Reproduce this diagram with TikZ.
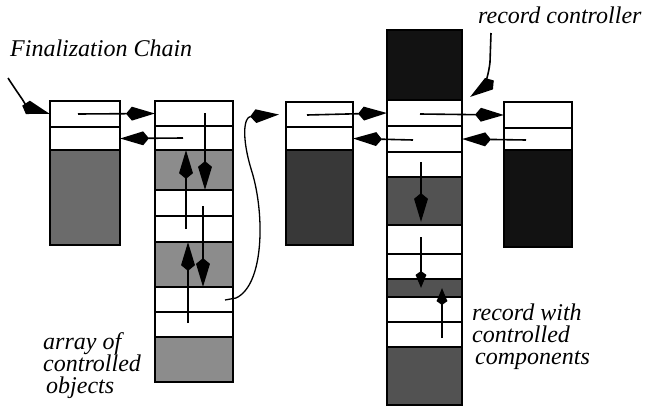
\documentclass[tikz,border=0pt]{standalone}
\usepackage{fontspec}
\setmainfont{Liberation Serif}
\usetikzlibrary{arrows.meta}
\colorlet{gA}{black!58}
\colorlet{gB}{black!45}
\colorlet{gC}{black!78}
\colorlet{gD}{black!68}
\colorlet{gDark}{black!93}
\newcommand\mkcell[6]{\node[cell, fill=#6, minimum width={#4pt-#2pt}, minimum height={#5pt-#3pt}] (#1) at (#2,#3) {};}
\begin{document}
\begin{tikzpicture}[x=1pt,y=-1pt,
  cell/.style={draw=black, line width=2pt, inner sep=0pt, outer sep=0pt, anchor=north west},
  bigtip/.tip={Stealth[length=23pt,width=13pt,inset=-6pt]},
  smalltip/.tip={Stealth[length=13pt,width=10pt,inset=-4pt]},
  ptr/.style={line width=1.6pt, -bigtip},
  sptr/.style={line width=1.6pt, -smalltip},
  lbl/.style={font=\fontsize{24}{22}\selectfont\itshape, inner sep=0pt, align=left}]
\useasboundingbox (0,0) rectangle (645,410);
% column A
\mkcell{a1}{50}{101}{120}{127}{white}
\mkcell{a2}{50}{127}{120}{150}{white}
\mkcell{a3}{50}{150}{120}{245}{gA}
% column B
\mkcell{b1}{155}{101}{233}{126}{white}
\mkcell{b2}{155}{126}{233}{150}{white}
\mkcell{b3}{155}{150}{233}{190}{gB}
\mkcell{b4}{155}{190}{233}{216}{white}
\mkcell{b5}{155}{216}{233}{242}{white}
\mkcell{b6}{155}{242}{233}{287}{gB}
\mkcell{b7}{155}{287}{233}{312}{white}
\mkcell{b8}{155}{312}{233}{337}{white}
\mkcell{b9}{155}{337}{233}{382}{gB}
% column C
\mkcell{c1}{286}{102}{353}{127}{white}
\mkcell{c2}{286}{127}{353}{150}{white}
\mkcell{c3}{286}{150}{353}{245}{gC}
% column D
\mkcell{d0}{387}{30}{462}{100}{gDark}
\mkcell{d1}{387}{100}{462}{126}{white}
\mkcell{d2}{387}{126}{462}{152}{white}
\mkcell{d3}{387}{152}{462}{177}{white}
\mkcell{d4}{387}{177}{462}{225}{gD}
\mkcell{d5}{387}{225}{462}{254}{white}
\mkcell{d6}{387}{254}{462}{279}{white}
\mkcell{d7}{387}{279}{462}{297}{gD}
\mkcell{d8}{387}{297}{462}{322}{white}
\mkcell{d9}{387}{322}{462}{347}{white}
\mkcell{d10}{387}{347}{462}{405}{gD}
% column E
\mkcell{e1}{504}{102}{572}{128}{white}
\mkcell{e2}{504}{128}{572}{150}{white}
\mkcell{e3}{504}{150}{572}{247}{gDark}
% start points
\coordinate (pa) at (78,114);
\coordinate (pb) at (183,138);
\coordinate (pc) at (307,115);
\coordinate (pd) at (413,140);
\coordinate (pe) at (420,114);
\coordinate (pf) at (526,140);
\coordinate (v1) at (205,113);
\coordinate (v2) at (186,229);
\coordinate (v3) at (203,206);
\coordinate (v4) at (188,323);
\coordinate (w1) at (421,162);
\coordinate (w2) at (421,237);
\coordinate (w3) at (442,338);
\coordinate (cs) at (225,300);
\coordinate (fc) at (8,78);
\coordinate (rc) at (491,33);
% horizontal pointers
\draw[ptr] (pa) -- (b1.west);
\draw[ptr] (pb) -- (a2.east);
\draw[ptr] (pc) -- (d1.west);
\draw[ptr] (pd) -- (c2.east);
\draw[ptr] (pe) -- (e1.west);
\draw[ptr] (pf) -- (d2.east);
% vertical pointers in B
\draw[ptr] (v1) -- (v1 |- b3.south);
\draw[ptr] (v2) -- (v2 |- b3.north);
\draw[ptr] (v3) -- (v3 |- b6.south);
\draw[ptr] (v4) -- (v4 |- b6.north);
% vertical pointers in D
\draw[ptr] (w1) -- ([yshift=3pt]w1 |- d4.south);
\draw[sptr] (w2) -- (w2 |- d7.center);
\draw[sptr] (w3) -- (w3 |- d7.center);
% curved link B -> C
\draw[line width=1.3pt, -bigtip] (cs) -- (236,298) .. controls (264,285) and (265,215) .. (252,172) .. controls (241,137) and (244,117) .. ([xshift=-7pt]c1.west);
% label arrows
\draw[ptr] (fc) .. controls (22,100) and (30,108) .. (a1.west);
\draw[ptr] (rc) -- (490,62) .. controls (488,82) and (480,90) .. ([xshift=8pt,yshift=3pt]d1.north east);
% labels
\node[lbl, anchor=base west] (fcl) at (10,56) {Finalization Chain};
\node[lbl, anchor=base west] (rcl) at (478,23) {record controller};
\node[lbl, anchor=north west] (aco) at (43,332) {array of\\ controlled\\ \hspace*{3pt}objects};
\node[lbl, anchor=north west] (rwc) at (472,304) {record with\\ controlled\\ \hspace*{3pt}components};
\end{tikzpicture}
\end{document}
